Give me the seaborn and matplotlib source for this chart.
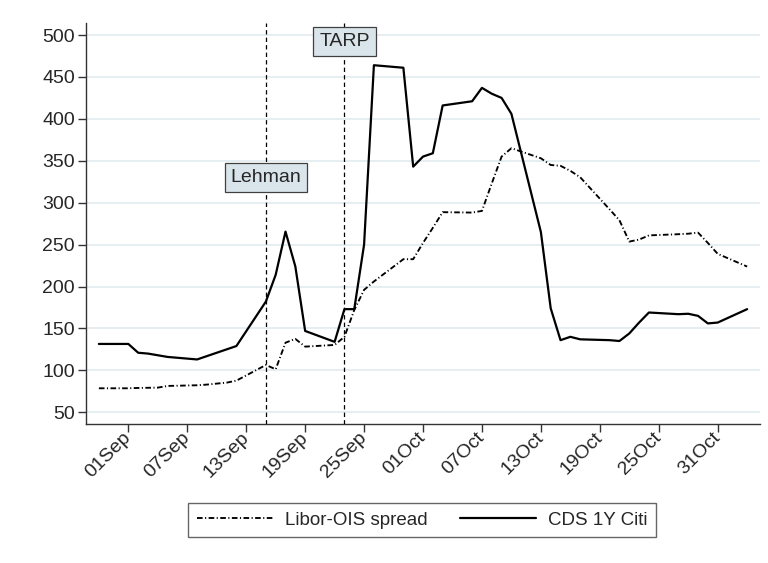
import pandas as pd
import matplotlib
matplotlib.use("Agg")
import matplotlib.pyplot as plt
import matplotlib.dates as mdates
import seaborn as sns

# ─── Data ───────────────────────────────────────────────────────────────────
# trading days 29 Aug 2008 .. 03 Nov 2008
dates = pd.bdate_range("2008-08-29", "2008-11-03")

libor_ois = [78.6, 78.6, 79, 79.2, 79.4, 81.4, 82.2, 83, 84.2, 85.3, 87.7,
             106.4, 101.3, 133, 137.5, 128.3,
             130.3, 140, 172, 196, 206,
             232.6, 232.6,
             252, 270, 288.7,
             288.2, 290.2, 323, 355, 365,
             353, 345, 344, 338, 330.4,
             292, 279, 253.6, 256, 261,
             262.4, 263, 264.3, 252, 239,
             223.8]

cds_citi = [131.5, 131.5, 121, 120, 118, 116, 113, 117, 121, 125, 129,
            182, 214, 265.5, 224, 147,
            134, 173, 173, 250, 464,
            461, 343,
            355, 359, 416,
            421, 437, 430, 425, 406,
            265, 174, 136, 140, 137,
            136, 135, 144, 157, 169,
            167, 167.5, 165, 156, 157,
            173]

events = ["Lehman", "TARP"]
event_dates = pd.to_datetime(["2008-09-15", "2008-09-23"])
event_label_y = [330, 492]

tick_dates = pd.date_range("2008-09-01", "2008-10-31", freq="6D")
y_ticks = list(range(50, 501, 50))

df = pd.DataFrame({"date": dates, "libor": libor_ois, "cds": cds_citi})

# ─── Style ──────────────────────────────────────────────────────────────────
sns.set_style("white")
plt.rcParams["font.family"] = ["Liberation Sans", "DejaVu Sans"]

fig = plt.figure(figsize=(7.68, 5.63), dpi=100)
ax = fig.add_axes([0.112, 0.2469, 0.8776, 0.7117])

for y in y_ticks:
    ax.axhline(y, color="#e4edf0", lw=1.3, zorder=0)

sns.lineplot(data=df, x="date", y="libor", ax=ax, color="black", lw=1.35,
             label="Libor-OIS spread", dashes=False)
ax.lines[-1].set_dashes((3.0, 1.3, 0.6, 1.3))
sns.lineplot(data=df, x="date", y="cds", ax=ax, color="black", lw=1.6,
             label="CDS 1Y Citi")

for name, d, ly in zip(events, event_dates, event_label_y):
    ax.axvline(d, color="black", lw=0.9, dashes=(3.5, 2.5), zorder=3)
    ax.text(d, ly, name, ha="center", va="center", fontsize=14, zorder=5,
            bbox=dict(boxstyle="square,pad=0.3", facecolor="#dae5eb",
                      edgecolor="#404040", lw=0.9))

pad_days = pd.Timedelta(days=1.31)
ax.set_xlim(dates[0] - pad_days, dates[-1] + pad_days)
ax.set_ylim(36, 514)
ax.set_yticks(y_ticks)
ax.set_xticks(tick_dates)
ax.xaxis.set_major_formatter(mdates.DateFormatter("%d%b"))
ax.set_xlabel("")
ax.set_ylabel("")

for side in ["top", "right"]:
    ax.spines[side].set_visible(False)
for side in ["left", "bottom"]:
    ax.spines[side].set_color("#333333")
    ax.spines[side].set_linewidth(1.0)

ax.tick_params(axis="both", direction="out", length=5.8, width=1.0,
               color="#333333", labelsize=14, pad=2.2)
ax.tick_params(axis="both", which="both", bottom=True, left=True)
for lbl in ax.get_xticklabels():
    lbl.set_rotation(45)
    lbl.set_ha("right")
    lbl.set_va("center")
    lbl.set_rotation_mode("anchor")

ax.get_legend().remove()
handles, labels = ax.get_legend_handles_labels()
leg = fig.legend(handles, labels, loc="center", ncol=2,
                 bbox_to_anchor=(0.5495, 0.0764), fontsize=13.5,
                 frameon=True, fancybox=False, edgecolor="#404040",
                 handlelength=4.1, handletextpad=0.6, columnspacing=1.7,
                 borderpad=0.45)
leg.get_frame().set_linewidth(1.0)

fig.savefig("out.png", dpi=100)
